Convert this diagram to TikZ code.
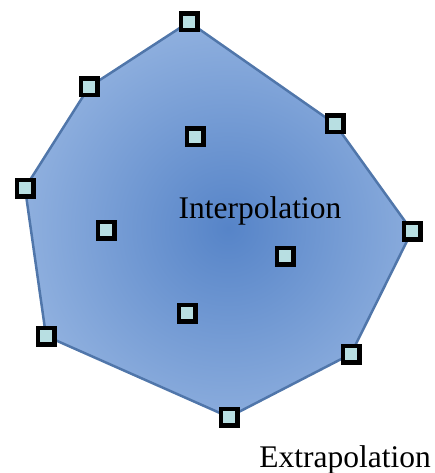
\documentclass[tikz,border=0pt]{standalone}
\usepackage{fontspec}
\setmainfont{Liberation Serif}
\begin{document}
\begin{tikzpicture}[x=1pt,y=-1pt,
  pt/.style={draw=black,line width=4.2pt,fill=sqfill,minimum size=16.8pt,inner sep=0pt,outer sep=0pt,rectangle},
  lbl/.style={font=\fontsize{31.5}{36}\selectfont,inner sep=0pt,anchor=base}]
\definecolor{sqfill}{RGB}{184,223,226}
\definecolor{edgeblue}{RGB}{80,118,170}
\definecolor{innerblue}{RGB}{86,132,200}
\definecolor{outerblue}{RGB}{180,204,237}
\useasboundingbox (0,0) rectangle (435,473);
\coordinate (v1) at (189,22);
\coordinate (v2) at (335,124);
\coordinate (v3) at (412,231);
\coordinate (v4) at (351,354);
\coordinate (v5) at (229,417);
\coordinate (v6) at (46,336);
\coordinate (v7) at (25,188);
\coordinate (v8) at (89,87);
\begin{scope}
\clip (v1)--(v2)--(v3)--(v4)--(v5)--(v6)--(v7)--(v8)--cycle;
\shade[inner color=innerblue,outer color=outerblue] (228,228) circle (340);
\end{scope}
\draw[edgeblue,line width=2.5pt,line join=round] (v1)--(v2)--(v3)--(v4)--(v5)--(v6)--(v7)--(v8)--cycle;
\node[lbl] (interp) at (260,218) {Interpolation};
\node[lbl] (extrap) at (345,467) {Extrapolation};
\foreach \c in {v1,v2,v3,v4,v5,v6,v7,v8}
  \node[pt] (s\c) at (\c) {};
\node[pt] (i1) at (195,137) {};
\node[pt] (i2) at (106,230) {};
\node[pt] (i3) at (285,256) {};
\node[pt] (i4) at (187,313) {};
\end{tikzpicture}
\end{document}
